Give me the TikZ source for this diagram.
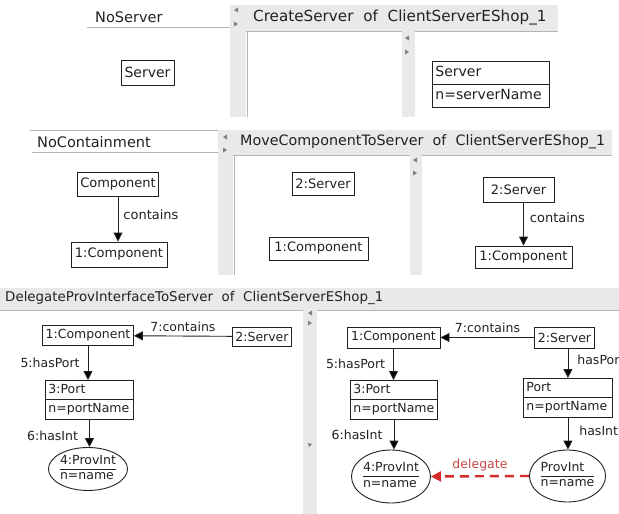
\documentclass[tikz,border=0pt]{standalone}
\usepackage{fontspec}
\setmainfont{DejaVu Sans}
\usetikzlibrary{arrows.meta,shapes.geometric,shapes.multipart}

\definecolor{panel}{HTML}{E9E9E9}
\definecolor{panelline}{HTML}{B4B4B4}
\definecolor{ink}{HTML}{222222}
\definecolor{deleg}{HTML}{D42A2A}
\definecolor{deleglbl}{HTML}{C84848}

% font sizes: titles, the three panels, edge labels
\newcommand\fTitleA{\fontsize{15.2}{17}\selectfont}
\newcommand\fTitleB{\fontsize{14.3}{17}\selectfont}
\newcommand\fTitleC{\fontsize{13.4}{17}\selectfont}
\newcommand\fTitle{\fontsize{14.5}{17}\selectfont}
\newcommand\fOne{\fontsize{14}{17}\selectfont}
\newcommand\fTwo{\fontsize{13}{16}\selectfont}
\newcommand\fThree{\fontsize{12.5}{15}\selectfont}
\newcommand\gap{\hspace{0.64em}}

\tikzset{
  box/.style={draw=ink, line width=0.9pt, fill=white, inner xsep=3pt, inner ysep=2pt, text=ink},
  splitbox/.style={box, rectangle split, rectangle split parts=2,
    rectangle split part align=left},
  oval/.style={box, ellipse, inner sep=0pt},
  arr/.style={draw=ink, line width=0.9pt, -{Triangle[length=9pt,width=9pt]}},
  lbl/.style={text=ink, inner sep=1pt},
  bar/.style={fill=panel},
  tipmark/.style={fill=black!50},
}

\begin{document}
\begin{tikzpicture}[x=1pt,y=-1pt]
\useasboundingbox (0,0) rectangle (619,514);
\fill[white] (0,0) rectangle (619,514);

% ---------------- panel 1: CreateServer ----------------
\node[anchor=west, text=ink, font=\fTitle, inner sep=0] (t1a) at (95,17) {NoServer};
\draw[panelline, line width=0.8pt] (87,27) -- (230,27);
\fill[bar] (230,5) rectangle (246,117);
\fill[bar] (246,5) rectangle (558,31);
\draw[panelline, line width=0.8pt] (246,31) -- (558,31);
\draw[panelline, line width=0.6pt] (247,31) -- (247,117);
\fill[bar] (402,31) rectangle (415,117);
\fill[tipmark] (238,7.5) -- (234,10) -- (238,12.5) -- cycle;
\fill[tipmark] (234,21.5) -- (238,24) -- (234,26.5) -- cycle;
\fill[tipmark] (409,35.5) -- (405,38) -- (409,40.5) -- cycle;
\fill[tipmark] (405,49.5) -- (409,52) -- (405,54.5) -- cycle;
\node[anchor=west, text=ink, font=\fTitleA, inner sep=0] (t1b) at (253,18)
  {CreateServer\gap of\gap ClientServerEShop\_1};

\node[box, font=\fOne, minimum width=53, minimum height=25] (s1a) at (147.5,72.5) {Server};
\node[splitbox, font=\fOne, minimum width=117, inner ysep=2.5pt, anchor=north west] (s1b) at (432,61)
  {\strut Server\nodepart{two}\strut n=serverName};

% ---------------- panel 2: MoveComponentToServer ----------------
\draw[panelline, line width=0.8pt] (30,130) -- (612,130);
\node[anchor=west, text=ink, font=\fTitle, inner sep=0] (t2a) at (37,142) {NoContainment};
\draw[panelline, line width=0.8pt] (32,152) -- (218,152);
\fill[bar] (218,130.4) rectangle (233,275);
\fill[bar] (233,130.4) rectangle (612,155);
\draw[panelline, line width=0.8pt] (233,155) -- (612,155);
\draw[panelline, line width=0.6pt] (234,155) -- (234,275);
\fill[bar] (410,155) rectangle (422,275);
\fill[tipmark] (227,134.5) -- (223,137) -- (227,139.5) -- cycle;
\fill[tipmark] (223,147.5) -- (227,150) -- (223,152.5) -- cycle;
\fill[tipmark] (417,157.5) -- (413,160) -- (417,162.5) -- cycle;
\fill[tipmark] (413,170.5) -- (417,173) -- (413,175.5) -- cycle;
\node[anchor=west, text=ink, font=\fTitleB, inner sep=0] (t2b) at (240,142)
  {MoveComponentToServer\gap of\gap ClientServerEShop\_1};

\node[box, font=\fTwo, minimum width=78, minimum height=24] (c2a) at (118,184) {Component};
\node[box, font=\fTwo, minimum width=96, minimum height=25] (c2b) at (119,254.5) {1:Component};
\draw[arr] (c2a.south) -- (c2a.south |- c2b.north)
  node[midway, right=4pt, lbl, font=\fTwo, yshift=4pt] (l2a) {contains};

\node[box, font=\fTwo, minimum width=62, minimum height=23] (s2m) at (323,183.5) {2:Server};
\node[box, font=\fTwo, minimum width=99, minimum height=23] (c2m) at (318.5,248.5) {1:Component};

\node[box, font=\fTwo, minimum width=71, minimum height=25] (s2r) at (518.5,189.5) {2:Server};
\node[box, font=\fTwo, minimum width=97, minimum height=22] (c2r) at (523.5,257) {1:Component};
\draw[arr] (c2r.north |- s2r.south) -- (c2r.north)
  node[midway, right=5pt, lbl, font=\fTwo, yshift=6pt] (l2b) {contains};

% ---------------- panel 3: DelegateProvInterfaceToServer ----------------
\fill[bar] (0,288) rectangle (619,310);
\draw[panelline, line width=0.8pt] (0,310) -- (619,310);
\fill[bar] (303,310) rectangle (317,514);
\fill[tipmark] (312,310.5) -- (308,313) -- (312,315.5) -- cycle;
\fill[tipmark] (308,320.5) -- (312,323) -- (308,325.5) -- cycle;
\fill[tipmark] (308,443) -- (312,444) -- (309,447) -- cycle;
\node[anchor=west, text=ink, font=\fTitleC, inner sep=0] (t3) at (5,298)
  {DelegateProvInterfaceToServer\gap of\gap ClientServerEShop\_1};

% left-hand side
\node[box, font=\fThree, minimum width=90, minimum height=20] (c3) at (88,335.5) {1:Component};
\node[box, font=\fThree, minimum width=58, minimum height=19] (s3) at (262,336.5) {2:Server};
\node[splitbox, font=\fThree, minimum width=88, inner ysep=1.75pt, anchor=north west] (p3) at (45,380)
  {\strut 3:Port\nodepart{two}\strut n=portName};
\node[oval, font=\fThree, minimum width=70, minimum height=42] (i3) at (88,469)
  {\begin{tabular}{@{}l@{}}4:ProvInt\\\hline n=name\end{tabular}};
\draw[arr] (s3) -- (c3) node[midway, above=3pt, lbl, font=\fThree] (l3a) {7:contains};
\draw[arr] (c3.south) -- (c3.south |- p3.north)
  node[midway, left=7pt, lbl, font=\fThree] (l3b) {5:hasPort};
\draw[arr] (p3.south) -- (p3.south |- i3.north)
  node[midway, left=10pt, lbl, font=\fThree, yshift=-2pt] (l3c) {6:hasInt};

% right-hand side
\node[box, font=\fThree, minimum width=93, minimum height=21] (c4) at (393.5,337.5) {1:Component};
\node[box, font=\fThree, minimum width=55, minimum height=21] (s4) at (564.5,337.5) {2:Server};
\node[splitbox, font=\fThree, minimum width=87, inner ysep=1.75pt, anchor=north west] (p4) at (350,380)
  {\strut 3:Port\nodepart{two}\strut n=portName};
\node[splitbox, font=\fThree, minimum width=89, inner ysep=1.75pt, anchor=north west] (q4) at (523,378)
  {\strut Port\nodepart{two}\strut n=portName};
\node[oval, font=\fThree, minimum width=72, minimum height=53] (i4) at (391,476.5)
  {\begin{tabular}{@{}l@{}}4:ProvInt\\\hline n=name\end{tabular}};
\node[oval, font=\fThree, minimum width=69, minimum height=52] (j4) at (567.5,476)
  {\begin{tabular}{@{}l@{}}ProvInt\\\hline n=name\end{tabular}};

\draw[arr] (s4) -- (c4) node[midway, above=3pt, lbl, font=\fThree] (l4a) {7:contains};
\draw[arr] (c4.south) -- (c4.south |- p4.north)
  node[midway, left=7pt, lbl, font=\fThree] (l4b) {5:hasPort};
\draw[arr] (p4.south) -- (p4.south |- i4.north)
  node[midway, left=10pt, lbl, font=\fThree] (l4c) {6:hasInt};
\draw[arr] (q4.north |- s4.south) -- (q4.north)
  node[midway, right=8pt, lbl, font=\fThree, yshift=3pt] (l4d) {hasPort};
\draw[arr] (q4.south) -- (q4.south |- j4.north)
  node[midway, right=10pt, lbl, font=\fThree, yshift=3pt] (l4e) {hasInt};

\draw[deleg, line width=2.4pt, dash pattern=on 9pt off 6pt,
  -{Triangle[length=10pt,width=10pt]}] (j4.west) -- (i4.east)
  node[midway, above=3pt, text=deleglbl, font=\fThree, inner sep=1pt] (l4f) {delegate};
\end{tikzpicture}
\end{document}
